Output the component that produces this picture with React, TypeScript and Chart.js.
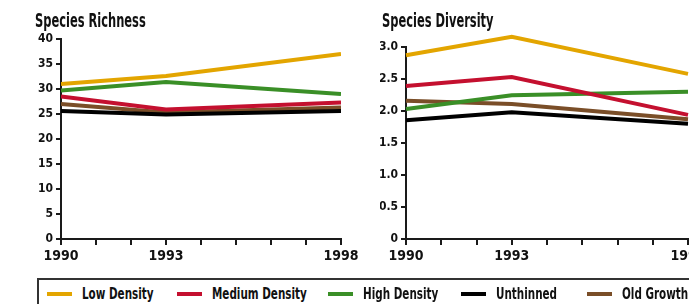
import React, { useEffect, useRef } from "react";
import { Chart, registerables } from "chart.js";

Chart.register(...registerables);

const years = [1990, 1993, 1998];
const labeledYears = [1990, 1993, 1998];

const seriesNames = ["Low Density", "Medium Density", "High Density", "Unthinned", "Old Growth"];
const seriesColors = ["#E3A500", "#C4102F", "#3A8F27", "#000000", "#7A4E28"];

const richnessLow = [31, 32.6, 37];
const richnessMedium = [28.5, 25.9, 27.3];
const richnessHigh = [29.7, 31.4, 29];
const richnessUnthinned = [25.6, 24.9, 25.6];
const richnessOldGrowth = [27, 25.3, 26.3];

const diversityLow = [2.87, 3.16, 2.58];
const diversityMedium = [2.39, 2.53, 1.94];
const diversityHigh = [2.03, 2.245, 2.3];
const diversityUnthinned = [1.855, 1.98, 1.8];
const diversityOldGrowth = [2.16, 2.11, 1.87];

const richnessTicks = { min: 0, max: 40, step: 5 };
const diversityTicks = { min: 0, max: 3, step: 0.5 };

const FONT = '"Liberation Sans Narrow", "DejaVu Sans Condensed", "Arial Narrow", sans-serif';
const AXIS = "#1a1a1a";

function buildDatasets(series: number[][], clip: boolean) {
  return series.map((vals, i) => ({
    label: seriesNames[i],
    data: years.map((x, j) => ({ x, y: vals[j] })),
    borderColor: seriesColors[i],
    backgroundColor: seriesColors[i],
    borderWidth: 4,
    pointRadius: 0,
    tension: 0,
    clip: clip ? undefined : (false as any),
  }));
}

function makeOptions(
  yt: { min: number; max: number; step: number },
  yWidth: number,
  padLeft: number,
  padRight: number,
  padTop: number,
  fmt: (v: number) => string
): any {
  return {
    animation: false,
    responsive: false,
    layout: { padding: { left: padLeft, right: padRight, top: padTop, bottom: 0 } },
    plugins: {
      legend: { display: false },
      tooltip: { enabled: false },
      title: { display: false },
    },
    scales: {
      x: {
        type: "linear",
        min: years[0],
        max: years[years.length - 1],
        afterFit: (s: any) => {
          s.height = 31;
        },
        ticks: {
          stepSize: 1,
          autoSkip: false,
          maxRotation: 0,
          padding: 3,
          color: "#111",
          font: { family: FONT, size: 14, weight: "bold" },
          callback: (v: number) => (labeledYears.includes(v) ? String(v) : ""),
        },
        grid: { display: true, drawOnChartArea: false, drawTicks: true, tickLength: 6, color: AXIS, lineWidth: 2 },
        border: { display: true, color: AXIS, width: 2 },
      },
      y: {
        min: yt.min,
        max: yt.max,
        afterFit: (s: any) => {
          s.width = yWidth;
        },
        ticks: {
          stepSize: yt.step,
          padding: 3,
          color: "#111",
          font: { family: FONT, size: 12, weight: "bold" },
          callback: (v: number) => fmt(v),
        },
        grid: { display: true, drawOnChartArea: false, drawTicks: true, tickLength: 5, color: AXIS, lineWidth: 2 },
        border: { display: true, color: AXIS, width: 2 },
      },
    },
  };
}

function LineChart(props: {
  series: number[][];
  yt: { min: number; max: number; step: number };
  yWidth: number;
  padLeft: number;
  padRight: number;
  padTop: number;
  width: number;
  height: number;
  clip: boolean;
  fmt: (v: number) => string;
  left: number;
}) {
  const ref = useRef<HTMLCanvasElement | null>(null);
  useEffect(() => {
    if (!ref.current) return;
    const chart = new Chart(ref.current, {
      type: "line",
      data: { datasets: buildDatasets(props.series, props.clip) as any },
      options: makeOptions(props.yt, props.yWidth, props.padLeft, props.padRight, props.padTop, props.fmt),
    });
    return () => chart.destroy();
  }, []);
  return (
    <canvas
      ref={ref}
      width={props.width}
      height={props.height}
      style={{ position: "absolute", left: props.left, top: 0, width: props.width, height: props.height }}
    />
  );
}

function Title(props: { text: string; left: number }) {
  return (
    <div
      style={{
        position: "absolute",
        left: props.left,
        top: 11,
        fontFamily: FONT,
        fontWeight: "bold",
        fontSize: 19,
        lineHeight: "19px",
        color: "#111",
        whiteSpace: "nowrap",
        transform: "scaleX(0.67)",
        transformOrigin: "0 0",
      }}
    >
      {props.text}
    </div>
  );
}

const legendOffsets = [47, 177, 328, 461, 587];

export default function App() {
  return (
    <div
      style={{
        position: "fixed",
        left: 0,
        top: 0,
        width: 689,
        height: 304,
        overflow: "hidden",
        background: "#fff",
      }}
    >
      <LineChart
        series={[richnessLow, richnessMedium, richnessHigh, richnessUnthinned, richnessOldGrowth]}
        yt={richnessTicks}
        yWidth={28}
        padLeft={33}
        padRight={21}
        padTop={39}
        width={362}
        height={270}
        clip={true}
        fmt={(v) => String(v)}
        left={0}
      />
      <LineChart
        series={[diversityLow, diversityMedium, diversityHigh, diversityUnthinned, diversityOldGrowth]}
        yt={diversityTicks}
        yWidth={26}
        padLeft={35}
        padRight={57}
        padTop={47}
        width={400}
        height={270}
        clip={false}
        fmt={(v) => (v === 0 ? "0" : v.toFixed(1))}
        left={345}
      />
      <Title text="Species Richness" left={35} />
      <Title text="Species Diversity" left={382} />
      <div
        style={{
          position: "absolute",
          left: 37,
          top: 278,
          width: 700,
          height: 40,
          borderTop: "2px solid #333",
          borderLeft: "2px solid #333",
          boxSizing: "border-box",
        }}
      />
      {seriesNames.map((name, i) => (
        <React.Fragment key={name}>
          <div
            style={{
              position: "absolute",
              left: legendOffsets[i],
              top: 292,
              width: 25,
              height: 4,
              background: seriesColors[i],
            }}
          />
          <div
            style={{
              position: "absolute",
              left: legendOffsets[i] + 35,
              top: 287,
              fontFamily: FONT,
              fontWeight: "bold",
              fontSize: 15,
              lineHeight: "15px",
              color: "#111",
              whiteSpace: "nowrap",
              transform: "scaleX(0.77)",
              transformOrigin: "0 0",
            }}
          >
            {name}
          </div>
        </React.Fragment>
      ))}
    </div>
  );
}
